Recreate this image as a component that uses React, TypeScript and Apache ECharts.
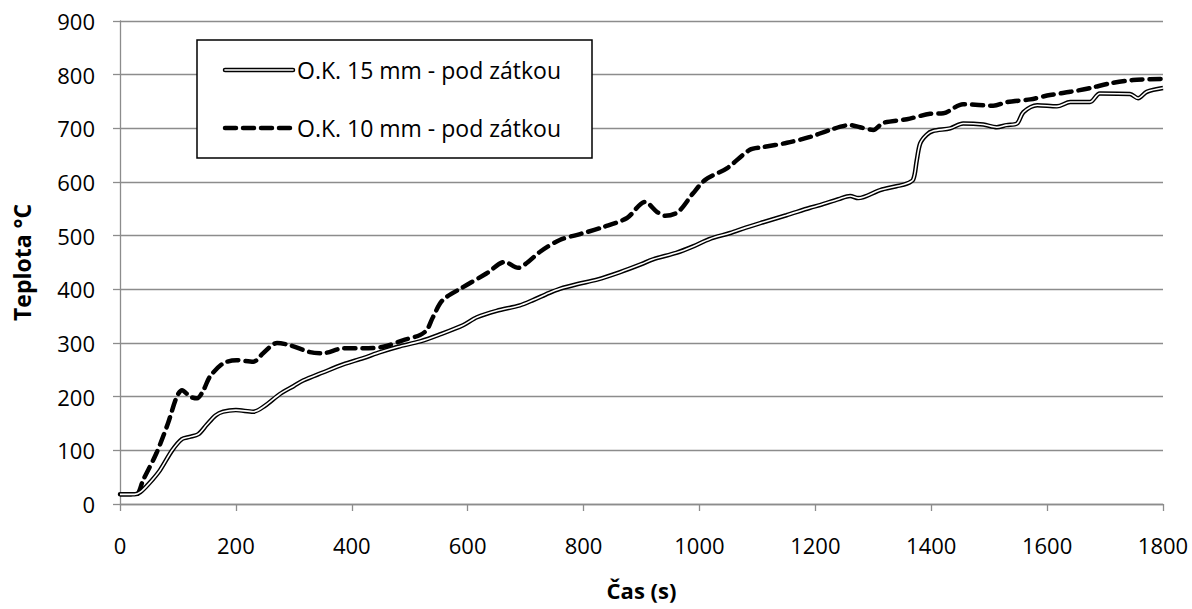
import React, { useEffect, useRef } from "react";
import * as echarts from "echarts";

// Temperature readings [time s, °C]
const seriesNames = ["O.K. 15 mm - pod zátkou", "O.K. 10 mm - pod zátkou"];

const ok15: [number, number][] = [
  [0, 18], [25, 18], [35, 22], [50, 38], [69, 63], [90, 100], [107, 121], [120, 125], [135, 130],
  [150, 148], [165, 165], [178, 172], [200, 175], [230, 172], [250, 183], [276, 205], [300, 220],
  [316, 230], [350, 245], [385, 260], [420, 272], [449, 283], [480, 293], [518, 303], [550, 315],
  [592, 333], [616, 348], [650, 360], [690, 370], [713, 380], [740, 393], [759, 401], [790, 410],
  [823, 418], [863, 432], [900, 447], [920, 456], [960, 468], [989, 480], [1018, 494], [1053, 505],
  [1080, 515], [1110, 525], [1150, 538], [1191, 552], [1208, 557], [1240, 568], [1260, 574],
  [1274, 570], [1312, 585], [1340, 592], [1358, 597], [1369, 605], [1375, 640], [1381, 672],
  [1392, 688], [1403, 695], [1433, 700], [1455, 709], [1490, 707], [1513, 702], [1530, 706],
  [1548, 709], [1559, 730], [1583, 743], [1617, 741], [1640, 749], [1674, 749], [1691, 765],
  [1743, 764], [1757, 756], [1772, 768], [1800, 775],
];

const ok10: [number, number][] = [
  [0, 18], [28, 18], [40, 45], [63, 95], [83, 151], [98, 200], [107, 212], [121, 200], [133, 197],
  [144, 212], [155, 237], [178, 262], [201, 268], [230, 265], [247, 281], [271, 300], [293, 296],
  [328, 283], [350, 281], [385, 290], [420, 290], [454, 293], [488, 305], [518, 315], [530, 325],
  [540, 348], [557, 380], [592, 404], [633, 430], [664, 451], [687, 440], [702, 449], [725, 470],
  [759, 492], [794, 503], [834, 516], [875, 533], [906, 563], [927, 544], [941, 537], [963, 544],
  [989, 579], [1010, 604], [1048, 626], [1087, 660], [1110, 665], [1151, 673], [1191, 684],
  [1225, 697], [1260, 706], [1277, 702], [1300, 697], [1317, 710], [1358, 717], [1398, 727],
  [1421, 728], [1455, 745], [1507, 742], [1531, 749], [1571, 754], [1605, 762], [1640, 768],
  [1674, 775], [1709, 784], [1748, 790], [1800, 792],
];

const xTitle = "Čas (s)";
const yTitle = "Teplota °C";

const FONT = "'Open Sans', 'Noto Sans', sans-serif";
const GRID_COLOR = "#8c8c8c";

export default function App() {
  const ref = useRef<HTMLDivElement>(null);

  useEffect(() => {
    document.body.style.margin = "0";
    if (!ref.current) return;
    const chart = echarts.init(ref.current, null, { renderer: "svg" });

    const legendX = 197;
    const legendY = 40;
    const rowY = [70, 128];

    chart.setOption({
      animation: false,
      backgroundColor: "#ffffff",
      grid: { left: 120, right: 29, top: 21, bottom: 105, outerBoundsMode: "none" },
      xAxis: {
        type: "value",
        min: 0,
        max: 1800,
        interval: 200,
        name: xTitle,
        nameLocation: "middle",
        nameGap: 75,
        nameTextStyle: { fontFamily: FONT, fontSize: 22, fontWeight: "bold", color: "#000" },
        axisLine: { lineStyle: { color: GRID_COLOR, width: 1.3 } },
        axisTick: { show: true, length: 7, lineStyle: { color: GRID_COLOR, width: 1.3 } },
        axisLabel: {
          fontFamily: FONT,
          fontSize: 22,
          color: "#000",
          margin: 30,
          formatter: (v: number) => String(v),
        },
        splitLine: { show: false },
      },
      yAxis: {
        type: "value",
        min: 0,
        max: 900,
        interval: 100,
        name: yTitle,
        nameLocation: "middle",
        nameGap: 87,
        nameTextStyle: { fontFamily: FONT, fontSize: 23, fontWeight: "bold", color: "#000" },
        axisLine: { show: true, lineStyle: { color: GRID_COLOR, width: 1.3 } },
        axisTick: { show: true, length: 7, lineStyle: { color: GRID_COLOR, width: 1.3 } },
        axisLabel: { fontFamily: FONT, fontSize: 22, color: "#000", margin: 25 },
        splitLine: { show: true, lineStyle: { color: GRID_COLOR, width: 1.3 } },
      },
      series: [
        {
          name: seriesNames[1],
          type: "line",
          data: ok10,
          showSymbol: false,
          smooth: 0.3,
          lineStyle: { color: "#000", width: 4.5, type: [11, 7], cap: "round" },
          z: 3,
        },
        {
          name: seriesNames[0] + " (outline)",
          type: "line",
          data: ok15,
          showSymbol: false,
          smooth: 0.3,
          lineStyle: { color: "#000", width: 4.5 },
          z: 4,
        },
        {
          name: seriesNames[0],
          type: "line",
          data: ok15,
          showSymbol: false,
          smooth: 0.3,
          lineStyle: { color: "#fff", width: 1.6 },
          z: 5,
        },
      ],
      graphic: [
        {
          type: "rect",
          shape: { x: legendX, y: legendY, width: 395, height: 118 },
          style: { fill: "#fff", stroke: "#000", lineWidth: 1.5 },
          z: 10,
        },
        {
          type: "line",
          shape: { x1: 225, y1: rowY[0], x2: 293, y2: rowY[0] },
          style: { stroke: "#000", lineWidth: 4.5, lineCap: "round" },
          z: 11,
        },
        {
          type: "line",
          shape: { x1: 225, y1: rowY[0], x2: 293, y2: rowY[0] },
          style: { stroke: "#fff", lineWidth: 1.6, lineCap: "round" },
          z: 12,
        },
        {
          type: "line",
          shape: { x1: 225, y1: rowY[1], x2: 293, y2: rowY[1] },
          style: { stroke: "#000", lineWidth: 4.5, lineDash: [11, 7], lineCap: "round" },
          z: 11,
        },
        {
          type: "text",
          x: 297,
          y: rowY[0],
          style: {
            text: seriesNames[0],
            fontFamily: FONT,
            fontSize: 23,
            fill: "#000",
            verticalAlign: "middle",
          },
          z: 12,
        },
        {
          type: "text",
          x: 297,
          y: rowY[1],
          style: {
            text: seriesNames[1],
            fontFamily: FONT,
            fontSize: 23,
            fill: "#000",
            verticalAlign: "middle",
          },
          z: 12,
        },
      ],
    });

    return () => chart.dispose();
  }, []);

  return <div ref={ref} style={{ width: 1192, height: 609 }} />;
}
